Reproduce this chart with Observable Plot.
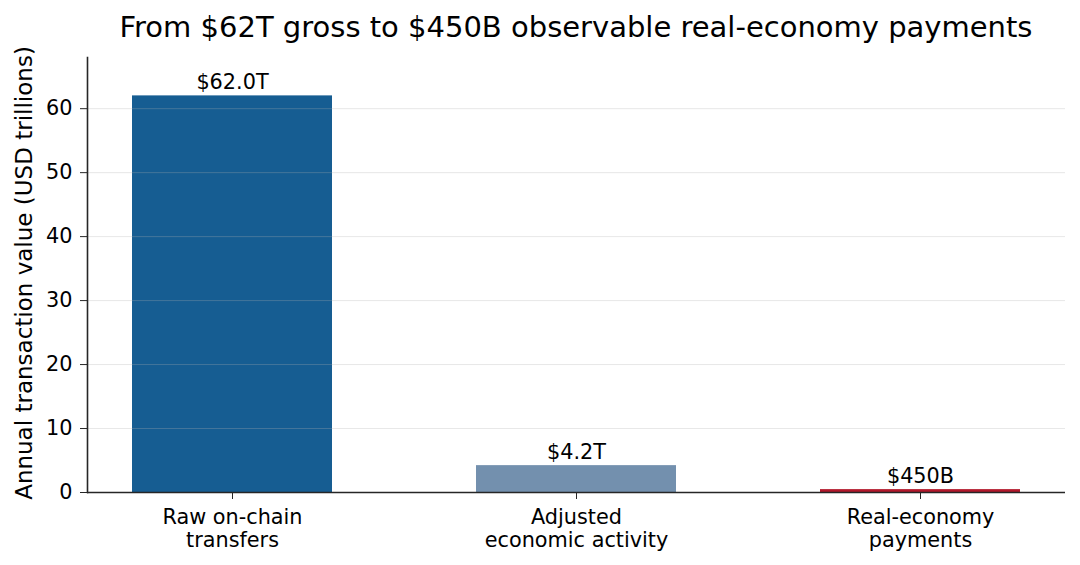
<!DOCTYPE html>
<html>
<head>
<meta charset="utf-8">
<script src="https://cdn.jsdelivr.net/npm/d3@7"></script>
<script src="https://cdn.jsdelivr.net/npm/@observablehq/plot@0.6"></script>
<style>
  html, body { margin: 0; padding: 0; background: #fff; }
  body { width: 1080px; height: 565px; overflow: hidden; font-family: "DejaVu Sans", sans-serif; }
  #title { box-sizing: border-box; height: 50px; line-height: 54px; padding-left: 87px; padding-right: 15px; text-align: center; font-size: 29px; color: #000; white-space: nowrap; }
  svg { display: block; }
</style>
</head>
<body>
<div id="title">From $62T gross to $450B observable real-economy payments</div>
<div id="chart"></div>
<script>
const categories = ["Raw on-chain\ntransfers", "Adjusted\neconomic activity", "Real-economy\npayments"];
const values = [62.0, 4.2, 0.45];
const valueLabels = ["$62.0T", "$4.2T", "$450B"];
const colors = ["#165d92", "#7390ae", "#b2182b"];
const yTicks = [0, 10, 20, 30, 40, 50, 60];
const yTitle = "Annual transaction value (USD trillions)";

const data = categories.map((c, i) => ({cat: c, value: values[i], label: valueLabels[i], color: colors[i]}));

const chart = Plot.plot({
  width: 1080,
  height: 515,
  marginLeft: 87,
  marginRight: 15,
  marginTop: 7,
  marginBottom: 73,
  style: {fontFamily: "DejaVu Sans, sans-serif", fontSize: "20.8px", color: "#000", background: "#fff", overflow: "visible"},
  x: {domain: categories, paddingInner: 0.42, paddingOuter: 0.13, label: null},
  y: {domain: [0, 68], label: null},
  marks: [
    Plot.barY(data, {x: "cat", y: "value", fill: "color"}),
    Plot.ruleY(yTicks.filter(t => t > 0), {stroke: "#b0b0b0", strokeOpacity: 0.3, strokeWidth: 1}),
    Plot.text(data, {x: "cat", y: "value", text: "label", lineAnchor: "bottom", dy: -7, fontSize: 20.8, fill: "#000"}),
    Plot.axisY({ticks: yTicks, tickSize: 7, tickPadding: 8, stroke: "#262626", fill: "#000", label: null, fontSize: 20.8}),
    Plot.axisX({tickSize: 7, tickPadding: 8, stroke: "#262626", fill: "#000", label: null, fontSize: 20.8, lineHeight: 1.1}),
    Plot.ruleY([0], {stroke: "#262626", strokeWidth: 1.6}),
    Plot.frame({anchor: "left", stroke: "#262626", strokeWidth: 1.6}),
    Plot.text([yTitle], {frameAnchor: "left", textAnchor: "middle", rotate: -90, dx: -63, dy: -2, fontSize: 23, fill: "#000", text: d => d})
  ]
});
document.getElementById("chart").appendChild(chart);
</script>
</body>
</html>
